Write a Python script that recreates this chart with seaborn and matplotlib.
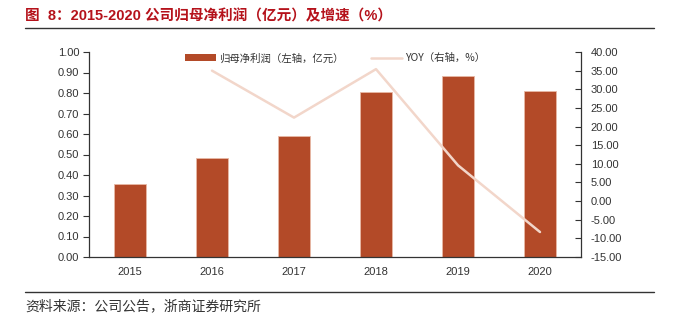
import matplotlib
matplotlib.use("Agg")
import matplotlib.pyplot as plt
import seaborn as sns
import pandas as pd
from matplotlib.lines import Line2D
from matplotlib.patches import Patch

years = ["2015", "2016", "2017", "2018", "2019", "2020"]
profit = [0.355, 0.483, 0.59, 0.805, 0.883, 0.81]
yoy_years = ["2016", "2017", "2018", "2019", "2020"]
yoy = [35.0, 22.4, 35.4, 9.6, -8.3]
left_ticks = [0.0, 0.1, 0.2, 0.3, 0.4, 0.5, 0.6, 0.7, 0.8, 0.9, 1.0]
right_ticks = [-15, -10, -5, 0, 5, 10, 15, 20, 25, 30, 35, 40]

title = "图  8：2015-2020 公司归母净利润（亿元）及增速（%）"
source = "资料来源：公司公告，浙商证券研究所"
bar_label = "归母净利润（左轴，亿元）"
line_label = "YOY（右轴，%）"

sns.set_theme(style="white")
plt.rcParams["font.family"] = ["Liberation Sans", "Noto Sans CJK SC", "DejaVu Sans"]

bar_color = "#B34A28"
line_color = "#F2D6CA"
text_color = "#333333"

df_bar = pd.DataFrame({"year": years, "profit": profit})
df_line = pd.DataFrame({"year": yoy_years, "yoy": yoy})

fig = plt.figure(figsize=(6.73, 3.24), dpi=100)
ax = fig.add_axes([89/673, 1-257/324, (581-89)/673, (257-52)/324])

sns.barplot(data=df_bar, x="year", y="profit", color=bar_color, width=0.4,
            saturation=1, ax=ax, edgecolor="#E8B9A6", linewidth=0.6, order=years)
ax.set_xlim(-0.5, len(years) - 0.5)
ax.set_ylim(0, 1.0)
ax.set_yticks(left_ticks)
ax.set_yticklabels([f"{v:.2f}" for v in left_ticks])
ax.set_xlabel("")
ax.set_ylabel("")

ax2 = ax.twinx()
sns.lineplot(data=df_line, x="year", y="yoy", color=line_color, linewidth=1.8,
             ax=ax2, sort=False)
ax2.set_ylim(-15, 40)
ax2.set_yticks(right_ticks)
ax2.set_yticklabels([f"{v:.2f}" for v in right_ticks])
ax2.set_ylabel("")
ax2.set_xlabel("")
ax.set_xlim(-0.5, len(years) - 0.5)

for a in (ax, ax2):
    for s in a.spines.values():
        s.set_visible(False)
ax.spines["left"].set_visible(True)
ax.spines["bottom"].set_visible(True)
ax2.spines["right"].set_visible(True)
for a, side in ((ax, "left"), (ax, "bottom"), (ax2, "right")):
    a.spines[side].set_color("#333333")
    a.spines[side].set_linewidth(0.9)

# x ticks at category boundaries pointing up
ax.set_xticks(range(len(years)))
ax.set_xticklabels(years)
ax.tick_params(axis="x", which="major", length=0, pad=7, labelsize=8, labelcolor=text_color)
ax.set_xticks([i + 0.5 for i in range(len(years) - 1)], minor=True)
ax.tick_params(axis="x", which="minor", direction="in", length=4, color="#555555", width=0.8)
ax.tick_params(axis="y", direction="out", length=4, width=0.8, color="#333333",
               labelsize=8, labelcolor=text_color, left=True, pad=3)
ax2.tick_params(axis="y", direction="in", length=4, width=0.8, color="#333333",
                labelsize=8, labelcolor=text_color, right=True, pad=7)

handles = [Patch(facecolor=bar_color, edgecolor="none"),
           Line2D([0], [0], color=line_color, linewidth=1.8)]
leg = ax.legend(handles, [bar_label, line_label], loc="upper center",
                bbox_to_anchor=(0.5, 1.04), ncol=2, frameon=False,
                prop={"family": ["Noto Sans CJK SC"], "size": 7.5},
                handlelength=3.0, handleheight=0.6, columnspacing=2.6, handletextpad=0.3)
for t in leg.get_texts():
    t.set_color(text_color)

fig.text(25/673, 1-16/324, title, fontsize=10.5, fontweight="bold", color="#B5121B",
         va="center", ha="left", family=["Liberation Sans", "Noto Sans CJK SC"])
fig.add_artist(Line2D([25/673, 654/673], [1-28.3/324, 1-28.3/324], color="#333333",
                      linewidth=1.0, transform=fig.transFigure))
fig.add_artist(Line2D([25/673, 654/673], [1-292.3/324, 1-292.3/324], color="#333333",
                      linewidth=1.0, transform=fig.transFigure))
fig.text(25/673, 1-306/324, source, fontsize=10, color=text_color, va="center", ha="left",
         family=["Noto Sans CJK SC"])

fig.savefig("out.png", dpi=100)
